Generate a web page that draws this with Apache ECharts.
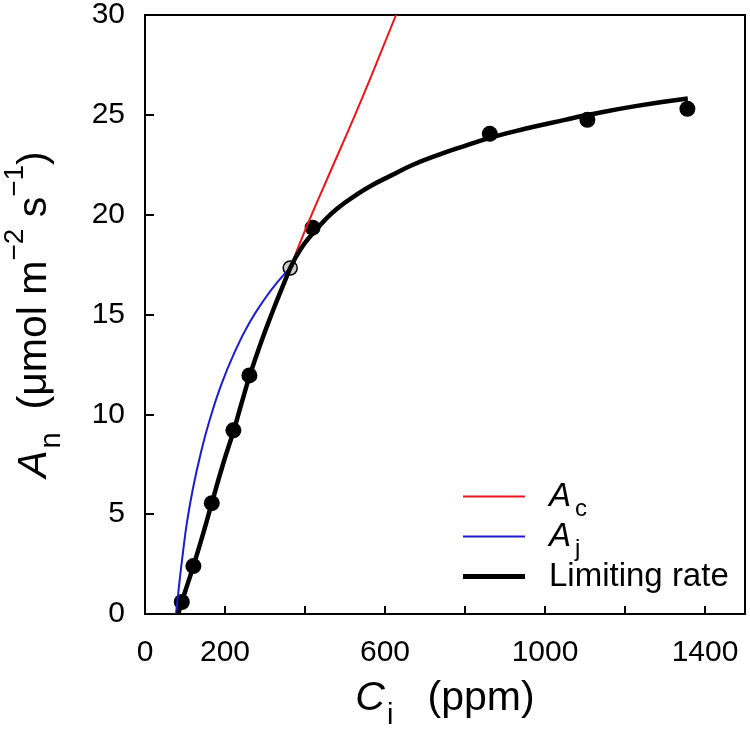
<!DOCTYPE html>
<html>
<head>
<meta charset="utf-8">
<script src="https://cdn.jsdelivr.net/npm/echarts@6/dist/echarts.min.js"></script>
<style>
  html, body { margin: 0; padding: 0; background: #fff; }
  #chart { width: 750px; height: 730px; }
</style>
</head>
<body>
<div id="chart"></div>
<script>
// measured points (Ci ppm, An)
const measured = [[92, 0.6], [121, 2.4], [167, 5.55], [221, 9.2], [261, 11.95], [419, 19.35], [862, 24.05], [1106, 24.75], [1356, 25.3]]
// transition point between the two limitations
const transition = [[363, 17.33]]
// fitted curves
const acCurve = [[363, 17.33], [404, 19.4], [460, 22.0], [508, 24.2], [542, 25.8], [573, 27.3], [627.5, 30]]
const ajCurve = [[77.5, 0], [85, 1.4], [95, 3.1], [105, 4.6], [120, 6.3], [140, 8.1], [160, 9.6], [190, 11.45], [225, 13.15], [260, 14.55], [300, 15.8], [330, 16.6], [363, 17.33]]
const limLower = [[83, 0], [100, 1.1], [121, 2.4], [145, 4.0], [167, 5.55], [195, 7.5], [222, 9.2], [242, 10.6], [262, 11.95], [290, 13.6], [320, 15.2], [345, 16.45], [363, 17.33]]
const limUpper = [[363, 17.33], [390, 18.3], [419, 19.05], [446, 19.65], [480, 20.3], [529, 21.0], [570, 21.5], [612, 21.93], [670, 22.5], [737, 23.02], [800, 23.45], [862, 23.85], [950, 24.3], [1050, 24.75], [1108, 25.0], [1230, 25.45], [1357, 25.82]]
const xLabels = [0, 200, 600, 1000, 1400]

const font = 'Liberation Sans, Arial, sans-serif'

const legendRich = {
  it: { fontSize: 33, fontStyle: 'italic', fontFamily: font, lineHeight: 34 },
  sub: { fontSize: 24, fontFamily: font, verticalAlign: 'bottom', lineHeight: 34, padding: [0, 0, -8, 4] },
  n: { fontSize: 33, fontFamily: font, lineHeight: 34 }
}

function legendFor(name, top, thick) {
  return {
    orient: 'vertical',
    left: 458,
    top: top,
    icon: 'rect',
    itemWidth: 62,
    itemHeight: thick,
    data: [name],
    formatter: function (n) {
      if (n === 'Ac') return '{it|A}{sub|c}'
      if (n === 'Aj') return '{it|A}{sub|j}'
      return '{n|' + n + '}'
    },
    textStyle: { padding: [0, 0, 0, 19], rich: legendRich }
  }
}

const titleRich = {
  it: { fontSize: 41, fontStyle: 'italic', fontFamily: font },
  sub: { fontSize: 29, fontFamily: font, verticalAlign: 'bottom', padding: [0, 0, -11, 2] },
  n: { fontSize: 41, fontFamily: font },
  sup: { fontSize: 28, fontFamily: font, verticalAlign: 'top', padding: [-13, 0, 0, 0] }
}

const chart = echarts.init(document.getElementById('chart'))
chart.setOption({
  animation: false,
  textStyle: { fontFamily: font, color: '#000' },
  grid: {
    left: 145,
    right: 5,
    top: 15,
    bottom: 116,
    outerBoundsMode: 'none',
    show: true,
    borderColor: '#000',
    borderWidth: 2
  },
  legend: [
    legendFor('Ac', 475, 2),
    legendFor('Aj', 515, 2),
    legendFor('Limiting rate', 555, 5)
  ],
  xAxis: {
    type: 'value',
    min: 0,
    max: 1500,
    interval: 200,
    name: '{it|C}{sub|i}{n|   (ppm)}',
    nameLocation: 'middle',
    nameGap: 64,
    nameTextStyle: { rich: titleRich },
    axisLine: { lineStyle: { color: '#000', width: 2 } },
    axisTick: { inside: true, length: 8, lineStyle: { color: '#000', width: 2 } },
    splitLine: { show: false },
    axisLabel: {
      fontSize: 30,
      color: '#000',
      margin: 24,
      formatter: function (v) { return xLabels.indexOf(v) >= 0 ? String(v) : '' }
    }
  },
  yAxis: {
    type: 'value',
    min: 0,
    max: 30,
    interval: 5,
    name: '{it|A}{sub|n}{n|  (μmol m}{sup|−2}{n| s}{sup|−1}{n|)}',
    nameLocation: 'middle',
    nameGap: 90,
    nameTextStyle: { rich: titleRich },
    axisLine: { lineStyle: { color: '#000', width: 2 } },
    axisTick: { inside: true, length: 9, lineStyle: { color: '#000', width: 2 } },
    splitLine: { show: false },
    axisLabel: { fontSize: 30, color: '#000', margin: 20 }
  },
  series: [
    {
      name: 'Ac',
      type: 'line',
      data: acCurve,
      smooth: true,
      symbol: 'none',
      color: '#e8161b',
      lineStyle: { width: 2, color: '#e8161b' }
    },
    {
      name: 'Aj',
      type: 'line',
      data: ajCurve,
      smooth: true,
      symbol: 'none',
      color: '#1c1ccc',
      lineStyle: { width: 2, color: '#1c1ccc' }
    },
    {
      name: 'Limiting rate',
      type: 'line',
      data: limLower,
      smooth: true,
      symbol: 'none',
      color: '#000',
      lineStyle: { width: 4.5, color: '#000' }
    },
    {
      name: 'Limiting rate',
      type: 'line',
      data: limUpper,
      smooth: true,
      symbol: 'none',
      color: '#000',
      lineStyle: { width: 4.5, color: '#000' }
    },
    {
      name: 'Measured',
      type: 'scatter',
      data: measured,
      symbolSize: 16,
      itemStyle: { color: '#000', opacity: 1 }
    },
    {
      name: 'Transition',
      type: 'scatter',
      data: transition,
      symbolSize: 14,
      itemStyle: { color: '#cccccc', borderColor: '#000', borderWidth: 1.5, opacity: 1 }
    }
  ]
})
</script>
</body>
</html>
